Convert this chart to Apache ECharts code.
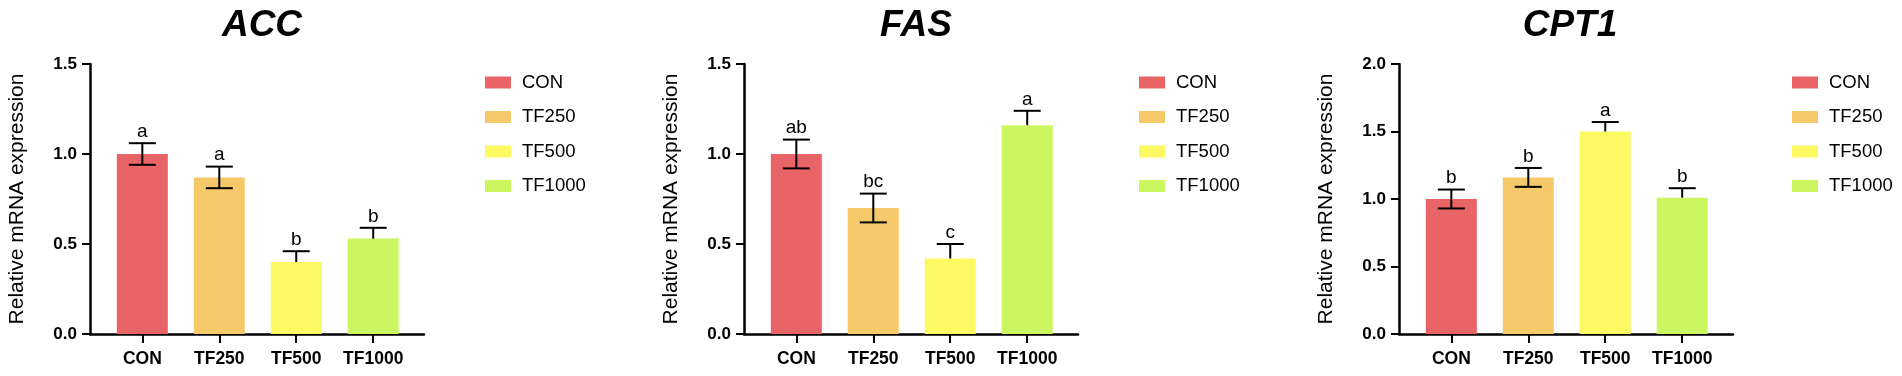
<!DOCTYPE html>
<html lang="en" style="height: 100%">
<head>
    <meta charset="utf-8">
</head>
<body style="height: 100%; margin: 0; overflow: hidden; background: #fff">
<div id="container" style="height: 376px; width: 1902px"></div>

<script type="text/javascript" src="https://cdn.jsdelivr.net/npm/echarts@6/dist/echarts.min.js"></script>

<script type="text/javascript">
    // groups and read-off values (mean, top of error bar, bottom of error bar)
    var groups = ['CON', 'TF250', 'TF500', 'TF1000'];

    var accMean = [1.00, 0.87, 0.40, 0.53];
    var accUpper = [1.06, 0.93, 0.46, 0.59];
    var accLower = [0.94, 0.81, null, null];
    var accLetters = ['a', 'a', 'b', 'b'];

    var fasMean = [1.00, 0.70, 0.42, 1.16];
    var fasUpper = [1.08, 0.78, 0.50, 1.24];
    var fasLower = [0.92, 0.62, null, null];
    var fasLetters = ['ab', 'bc', 'c', 'a'];

    var cptMean = [1.00, 1.16, 1.50, 1.01];
    var cptUpper = [1.07, 1.23, 1.57, 1.08];
    var cptLower = [0.93, 1.09, null, null];
    var cptLetters = ['b', 'b', 'a', 'b'];

    var colors = ['#E96466', '#F5C96A', '#FDF962', '#CCF65F'];
    var font = '"Liberation Sans", Arial, Helvetica, sans-serif';

    var panels = [
      { name: 'ACC', mean: accMean, upper: accUpper, lower: accLower, letters: accLetters, yMax: 1.5,
        left: 90, legendLeft: 480, titleX: 257 },
      { name: 'FAS', mean: fasMean, upper: fasUpper, lower: fasLower, letters: fasLetters, yMax: 1.5,
        left: 744, legendLeft: 1134, titleX: 911 },
      { name: 'CPT1', mean: cptMean, upper: cptUpper, lower: cptLower, letters: cptLetters, yMax: 2.0,
        left: 1399, legendLeft: 1787, titleX: 1565 }
    ];

    var dom = document.getElementById('container');
    var myChart = echarts.init(dom, null, { renderer: 'canvas' });

    var option = {
      backgroundColor: '#fff',
      animation: false,
      title: [],
      legend: [],
      grid: [],
      xAxis: [],
      yAxis: [],
      series: []
    };

    var ticks = [0, 1, 2, 3];

    panels.forEach(function (p, k) {
      option.title.push({
        text: p.name,
        left: p.titleX,
        top: 2,
        textAlign: 'center',
        textStyle: { fontFamily: font, fontSize: 37, fontWeight: 'bold', fontStyle: 'italic', color: '#000' }
      });
      option.legend.push({
        data: groups,
        orient: 'vertical',
        left: p.legendLeft,
        top: 68,
        icon: 'rect',
        itemWidth: 26,
        itemHeight: 12,
        itemGap: 15.5,
        selectedMode: false,
        textStyle: { fontFamily: font, fontSize: 18.5, color: '#000', padding: [0, 0, 0, 6] }
      });
      option.grid.push({ left: p.left, width: 334, top: 64, height: 270 });
      option.xAxis.push({
        type: 'value',
        gridIndex: k,
        min: -0.68,
        max: 3.66,
        splitLine: { show: false },
        axisLine: { onZero: false, lineStyle: { color: '#000', width: 2.5 } },
        axisTick: { customValues: ticks, length: 9, lineStyle: { color: '#000', width: 2 } },
        axisLabel: {
          customValues: ticks,
          margin: 16,
          fontFamily: font, fontSize: 17.5, fontWeight: 'bold', color: '#000',
          formatter: function (v) { return groups[Math.round(v)]; }
        }
      });
      option.yAxis.push({
        type: 'value',
        gridIndex: k,
        min: 0,
        max: p.yMax,
        interval: 0.5,
        name: 'Relative mRNA expression',
        nameLocation: 'middle',
        nameRotate: 90,
        nameGap: 62,
        nameTextStyle: { fontFamily: font, fontSize: 21, color: '#000' },
        splitLine: { show: false },
        axisLine: { show: true, onZero: false, lineStyle: { color: '#000', width: 2.5 } },
        axisTick: { show: true, length: 8, lineStyle: { color: '#000', width: 2 } },
        axisLabel: {
          margin: 13,
          fontFamily: font, fontSize: 17, fontWeight: 'bold', color: '#000',
          formatter: function (v) { return v.toFixed(1); }
        }
      });

      groups.forEach(function (g, i) {
        option.series.push({
          type: 'bar',
          name: g,
          xAxisIndex: k,
          yAxisIndex: k,
          barWidth: 51,
          barGap: '-100%',
          itemStyle: { color: colors[i] },
          data: [[i, p.mean[i]]]
        });
      });

      option.series.push({
        type: 'custom',
        xAxisIndex: k,
        yAxisIndex: k,
        z: 5,
        data: groups.map(function (g, i) {
          return [i, p.mean[i], p.upper[i], p.lower[i] == null ? p.mean[i] : p.lower[i]];
        }),
        renderItem: function (params, api) {
          var i = params.dataIndex;
          var x = api.value(0);
          var top = api.coord([x, api.value(2)]);
          var bot = api.coord([x, api.value(3)]);
          var half = 13.5;
          var st = { stroke: '#000', lineWidth: 2 };
          var children = [
            { type: 'line', shape: { x1: top[0], y1: top[1], x2: bot[0], y2: bot[1] }, style: st },
            { type: 'line', shape: { x1: top[0] - half, y1: top[1], x2: top[0] + half, y2: top[1] }, style: st },
            {
              type: 'text',
              style: {
                x: top[0], y: top[1] - 2,
                text: p.letters[i],
                align: 'center',
                verticalAlign: 'bottom',
                font: '19px ' + font,
                fill: '#000'
              }
            }
          ];
          if (p.lower[i] != null) {
            children.push({ type: 'line', shape: { x1: bot[0] - half, y1: bot[1], x2: bot[0] + half, y2: bot[1] }, style: st });
          }
          return { type: 'group', children: children };
        }
      });
    });

    myChart.setOption(option);
    window.addEventListener('resize', myChart.resize);
</script>
</body>
</html>
